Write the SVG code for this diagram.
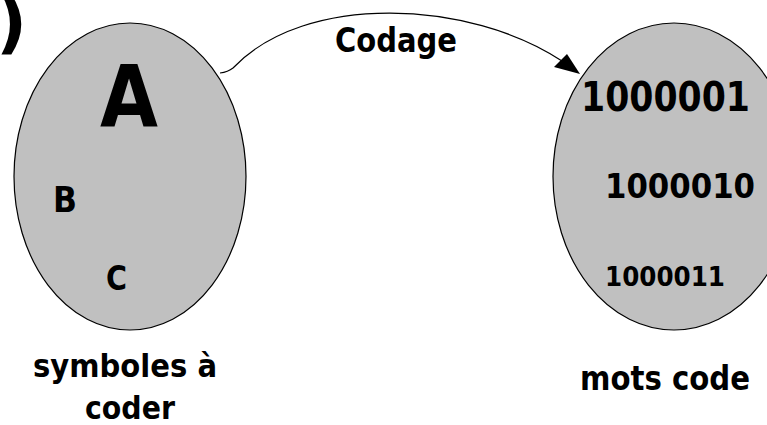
<svg xmlns="http://www.w3.org/2000/svg" width="767" height="425" viewBox="0 0 767 425">
<style>
.set{fill:#c0c0c0;stroke:#000;stroke-width:1.2}
.t{font-family:"DejaVu Sans","Liberation Sans",sans-serif;font-weight:bold;fill:#000}
.conn{fill:none;stroke:#000;stroke-width:1.2}
</style>
<rect width="767" height="425" fill="#fff"/>
<text x="-4" y="46" font-family="DejaVu Sans, sans-serif" font-weight="bold" font-size="68" fill="#000">)</text>
<g id="connectors">
<path class="conn" d="M220,73 Q228,72 233,68 C305,-8 470,0 562,61 L570,66" />
<polygon points="580,74 554,67 567,54" fill="#000"/>
<text class="t" x="335" y="52" font-size="33" textLength="122" lengthAdjust="spacingAndGlyphs">Codage</text>
</g>
<g id="symboles">
<ellipse class="set" cx="130" cy="176.5" rx="116" ry="153.5"/>
<text class="t" x="100" y="126" font-size="86" textLength="58" lengthAdjust="spacingAndGlyphs">A</text>
<text class="t" x="53" y="212" font-size="36" textLength="24" lengthAdjust="spacingAndGlyphs">B</text>
<text class="t" x="106" y="290" font-size="34" textLength="21" lengthAdjust="spacingAndGlyphs">C</text>
<text class="t" x="33" y="377" font-size="32" textLength="184" lengthAdjust="spacingAndGlyphs">symboles à</text>
<text class="t" x="85" y="419" font-size="32" textLength="90" lengthAdjust="spacingAndGlyphs">coder</text>
</g>
<g id="mots">
<ellipse class="set" cx="674" cy="176.5" rx="121" ry="153.5"/>
<text class="t" x="581" y="111" font-size="40" textLength="169" lengthAdjust="spacingAndGlyphs">1000001</text>
<text class="t" x="605" y="198" font-size="33" textLength="150" lengthAdjust="spacingAndGlyphs">1000010</text>
<text class="t" x="605" y="286" font-size="26" textLength="120" lengthAdjust="spacingAndGlyphs">1000011</text>
<text class="t" x="580" y="390" font-size="33" textLength="170" lengthAdjust="spacingAndGlyphs">mots code</text>
</g>
</svg>
